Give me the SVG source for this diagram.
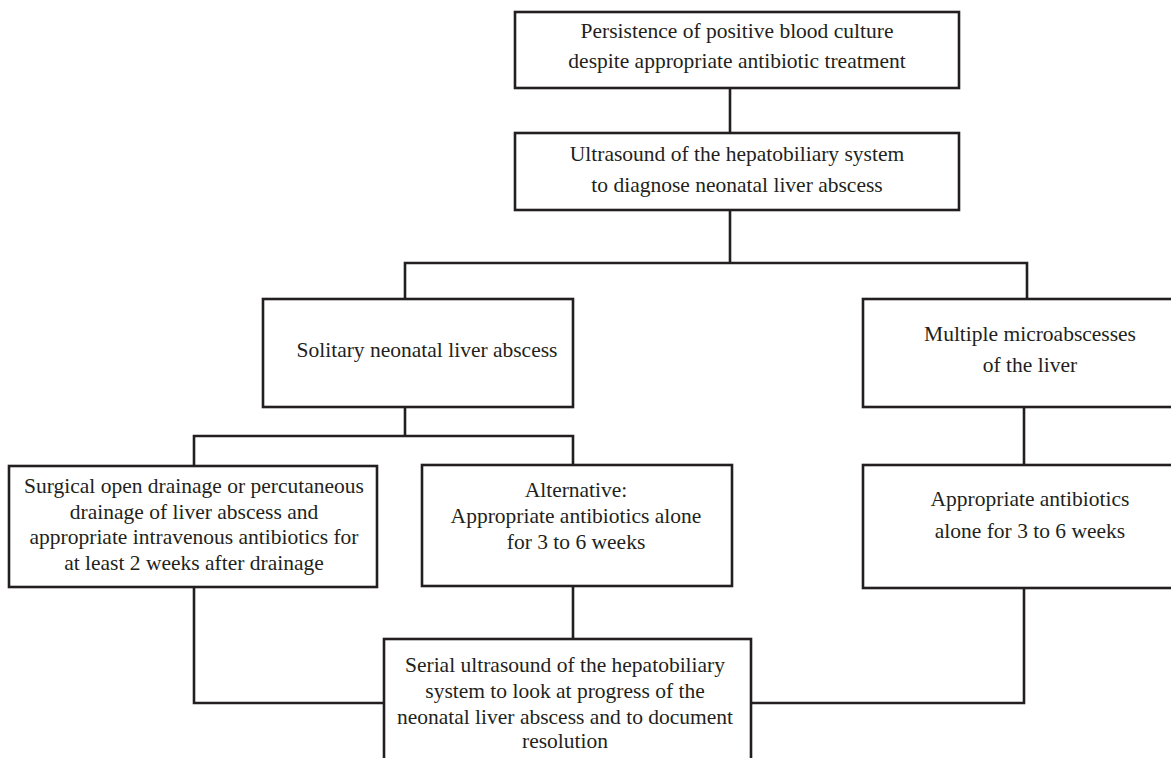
<svg xmlns="http://www.w3.org/2000/svg" width="1171" height="758" viewBox="0 0 1171 758">
<style>
.box{fill:#fff;stroke:#231f20;stroke-width:2.6}
.ln{fill:none;stroke:#231f20;stroke-width:2.6}
text{font-family:"Liberation Serif","Times New Roman",serif;font-size:21.5px;fill:#231f20;text-anchor:middle}
</style>
<rect width="1171" height="758" fill="#fff"/>
<g id="connectors">
<path class="ln" d="M730,88V133"/>
<path class="ln" d="M730,210V263M405,299V263H1027V299"/>
<path class="ln" d="M405,407V436M194,466V436H573V465"/>
<path class="ln" d="M1024,407V465"/>
<path class="ln" d="M573,586V639"/>
<path class="ln" d="M194,587V703H384"/>
<path class="ln" d="M1024,588V703H751"/>
</g>
<g id="n1"><rect class="box" x="515" y="12" width="444" height="76"/>
<text x="737" y="38">Persistence of positive blood culture</text>
<text x="737" y="68">despite appropriate antibiotic treatment</text></g>
<g id="n2"><rect class="box" x="515" y="133" width="444" height="77"/>
<text x="737" y="161">Ultrasound of the hepatobiliary system</text>
<text x="737" y="192">to diagnose neonatal liver abscess</text></g>
<g id="n3"><rect class="box" x="263" y="299" width="310" height="108"/>
<text x="427" y="357">Solitary neonatal liver abscess</text></g>
<g id="n4"><rect class="box" x="863" y="299" width="340" height="108"/>
<text x="1030" y="341">Multiple microabscesses</text>
<text x="1030" y="372">of the liver</text></g>
<g id="n5"><rect class="box" x="9" y="466" width="368" height="121"/>
<text x="194" y="493">Surgical open drainage or percutaneous</text>
<text x="194" y="519">drainage of liver abscess and</text>
<text x="194" y="544">appropriate intravenous antibiotics for</text>
<text x="194" y="570">at least 2 weeks after drainage</text></g>
<g id="n6"><rect class="box" x="422" y="465" width="310" height="121"/>
<text x="576" y="497">Alternative:</text>
<text x="576" y="523">Appropriate antibiotics alone</text>
<text x="576" y="549">for 3 to 6 weeks</text></g>
<g id="n7"><rect class="box" x="863" y="465" width="340" height="123"/>
<text x="1030" y="506">Appropriate antibiotics</text>
<text x="1030" y="538">alone for 3 to 6 weeks</text></g>
<g id="n8"><rect class="box" x="384" y="639" width="367" height="140"/>
<text x="565" y="672">Serial ultrasound of the hepatobiliary</text>
<text x="565" y="698">system to look at progress of the</text>
<text x="565" y="724">neonatal liver abscess and to document</text>
<text x="565" y="748">resolution</text></g>
</svg>
